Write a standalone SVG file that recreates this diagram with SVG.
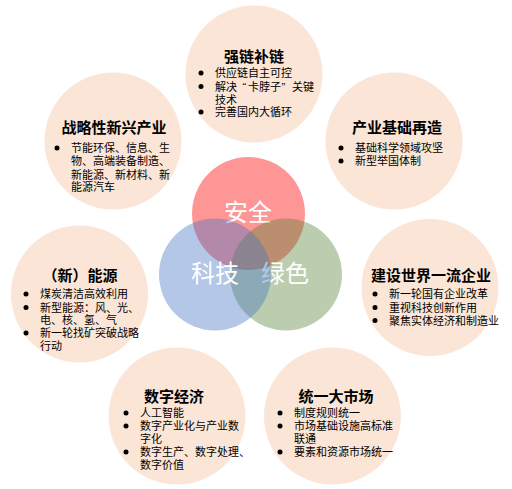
<svg xmlns="http://www.w3.org/2000/svg" width="512" height="489" viewBox="0 0 512 489">
<style>
.bg{fill:#FBE5D6}
.n{font-family:"Liberation Sans","Noto Sans CJK SC",sans-serif;font-size:11px;fill:#000}
.t{font-size:15px;font-weight:bold;text-anchor:middle}
.v{font-family:"Liberation Sans","Noto Sans CJK SC",sans-serif;font-size:24px;fill:#fff;text-anchor:middle}
.dot{fill:#000}
</style>
<rect width="512" height="489" fill="#fff"/>
<g id="node-qianglian">
<circle class="bg" cx="254" cy="74" r="68.5"/>
<circle class="dot" cx="201" cy="73" r="2.5"/>
<circle class="dot" cx="201" cy="86.5" r="2.5"/>
<circle class="dot" cx="201" cy="112" r="2.5"/>
<text class="n"><tspan class="t" x="254" y="62">强链补链</tspan><tspan x="215" y="77">供应链自主可控</tspan><tspan x="215" y="90.5">解决</tspan><tspan x="242.5" y="90.5">“</tspan><tspan x="248" y="90.5">卡脖子</tspan><tspan x="281.5" y="90.5">”</tspan><tspan x="292" y="90.5">关键</tspan><tspan x="215" y="103.5">技术</tspan><tspan x="215" y="116">完善国内大循环</tspan></text>
</g>
<g id="node-zhanlue">
<circle class="bg" cx="113" cy="141" r="68.5"/>
<circle class="dot" cx="57" cy="148" r="2.5"/>
<text class="n"><tspan class="t" x="114" y="133">战略性新兴产业</tspan><tspan x="71" y="152">节能环保、信息、生</tspan><tspan x="71" y="165">物、高端装备制造、</tspan><tspan x="71" y="178.5">新能源、新材料、新</tspan><tspan x="71" y="191">能源汽车</tspan></text>
</g>
<g id="node-chanye">
<circle class="bg" cx="394" cy="141" r="68.5"/>
<circle class="dot" cx="341" cy="148" r="2.5"/>
<circle class="dot" cx="341" cy="161" r="2.5"/>
<text class="n"><tspan class="t" x="397" y="133">产业基础再造</tspan><tspan x="355" y="152">基础科学领域攻坚</tspan><tspan x="355" y="165">新型举国体制</tspan></text>
</g>
<g id="node-nengyuan">
<circle class="bg" cx="79.5" cy="294" r="68.5"/>
<circle class="dot" cx="26" cy="294" r="2.5"/>
<circle class="dot" cx="26" cy="307.5" r="2.5"/>
<circle class="dot" cx="26" cy="333" r="2.5"/>
<text class="n"><tspan class="t" x="80" y="281">（新）能源</tspan><tspan x="40" y="298">煤炭清洁高效利用</tspan><tspan x="40" y="311.5">新型能源：风、光、</tspan><tspan x="40" y="324">电、核、氢、气</tspan><tspan x="40" y="337">新一轮找矿突破战略</tspan><tspan x="40" y="349.5">行动</tspan></text>
</g>
<g id="node-qiye">
<circle class="bg" cx="430" cy="287.5" r="68.5"/>
<circle class="dot" cx="375" cy="294" r="2.5"/>
<circle class="dot" cx="375" cy="307.5" r="2.5"/>
<circle class="dot" cx="375" cy="320.5" r="2.5"/>
<text class="n"><tspan class="t" x="431" y="281">建设世界一流企业</tspan><tspan x="389" y="298">新一轮国有企业改革</tspan><tspan x="389" y="311.5">重视科技创新作用</tspan><tspan x="389" y="324.5">聚焦实体经济和制造业</tspan></text>
</g>
<g id="node-shuzi">
<circle class="bg" cx="177" cy="416" r="68.5"/>
<circle class="dot" cx="126" cy="413" r="2.5"/>
<circle class="dot" cx="126" cy="426" r="2.5"/>
<circle class="dot" cx="126" cy="452" r="2.5"/>
<text class="n"><tspan class="t" x="174" y="402">数字经济</tspan><tspan x="140" y="417">人工智能</tspan><tspan x="140" y="430">数字产业化与产业数</tspan><tspan x="140" y="443">字化</tspan><tspan x="140" y="456">数字生产、数字处理、</tspan><tspan x="140" y="468.5">数字价值</tspan></text>
</g>
<g id="node-shichang">
<circle class="bg" cx="332.5" cy="416" r="68.5"/>
<circle class="dot" cx="280" cy="413" r="2.5"/>
<circle class="dot" cx="280" cy="426" r="2.5"/>
<circle class="dot" cx="280" cy="452" r="2.5"/>
<text class="n"><tspan class="t" x="336" y="402">统一大市场</tspan><tspan x="294" y="417">制度规则统一</tspan><tspan x="294" y="430">市场基础设施高标准</tspan><tspan x="294" y="443">联通</tspan><tspan x="294" y="456">要素和资源市场统一</tspan></text>
</g>
<g id="venn-anquan">
<circle cx="248.5" cy="213.5" r="56.5" fill="#FF0000" fill-opacity="0.41"/>
<text class="v" x="248" y="221">安全</text>
</g>
<g id="venn-lvse">
<circle cx="286" cy="274.5" r="56" fill="#548235" fill-opacity="0.4"/>
<text class="v" x="285" y="282">绿色</text>
</g>
<g id="venn-keji">
<circle cx="215" cy="274.5" r="56" fill="#4472C4" fill-opacity="0.4"/>
<text class="v" x="215" y="282">科技</text>
</g>
<g id="connectors"></g>
</svg>
